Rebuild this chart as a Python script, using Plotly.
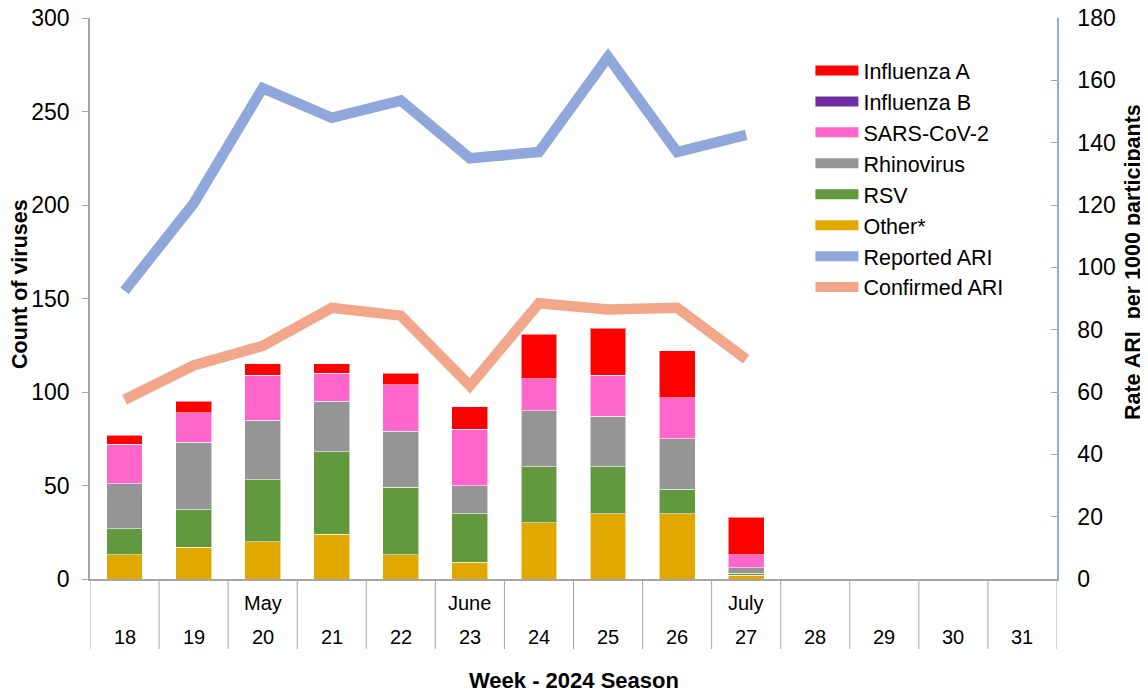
import plotly.graph_objects as go

weeks = [18, 19, 20, 21, 22, 23, 24, 25, 26, 27, 28, 29, 30, 31]
month_labels = {20: "May", 23: "June", 27: "July"}
data_weeks = [18, 19, 20, 21, 22, 23, 24, 25, 26, 27]

other = [13, 17, 20, 24, 13, 9, 30, 35, 35, 2]
rsv = [14, 20, 33, 44, 36, 26, 30, 25, 13, 1]
rhino = [24, 36, 32, 27, 30, 15, 30, 27, 27, 3]
sars = [21, 16, 24, 15, 25, 30, 17, 22, 22, 7]
flu_b = [0, 0, 0, 0, 0, 0, 0, 0, 0, 0]
flu_a = [5, 6, 6, 5, 6, 12, 24, 25, 25, 20]

reported_ari = [92.5, 120.5, 157.5, 148, 153.5, 135, 137, 167.5, 137, 142.5]
confirmed_ari = [57.5, 68.5, 74.8, 87, 84.5, 62, 88.5, 86.5, 87, 70.5]

FONT = "Arial, 'Liberation Sans', sans-serif"

bar_series = [
    ("Other*", other, "#E1A900", 6),
    ("RSV", rsv, "#62993E", 5),
    ("Rhinovirus", rhino, "#959595", 4),
    ("SARS-CoV-2", sars, "#FF66CC", 3),
    ("Influenza B", flu_b, "#7030A0", 2),
    ("Influenza A", flu_a, "#FF0000", 1),
]

fig = go.Figure()
for name, vals, color, rank in bar_series:
    fig.add_trace(go.Bar(
        x=data_weeks, y=vals, name=name, marker_color=color,
        marker_line=dict(color="rgba(255,255,255,0.55)", width=1),
        width=0.52, showlegend=False, legendgroup=name, yaxis="y",
    ))
    # legend proxy (wide rectangle look)
    fig.add_trace(go.Scatter(
        x=[None], y=[None], mode="lines", name=name,
        line=dict(color=color, width=13), legendgroup=name,
        legendrank=rank, showlegend=True,
    ))

fig.add_trace(go.Scatter(
    x=data_weeks, y=reported_ari, name="Reported ARI", mode="lines",
    line=dict(color="#8FA7DA", width=10.5), yaxis="y2", legendrank=7,
))
fig.add_trace(go.Scatter(
    x=data_weeks, y=confirmed_ari, name="Confirmed ARI", mode="lines",
    line=dict(color="#F2A78A", width=10.5), yaxis="y2", legendrank=8,
))

shapes = []
for i in range(len(weeks) + 1):
    shapes.append(dict(type="line", xref="x", yref="paper",
                       x0=weeks[0] - 0.5 + i, x1=weeks[0] - 0.5 + i,
                       y0=0, y1=-0.1248,
                       line=dict(color="#A6A6A6", width=1)))

annotations = []
for w in weeks:
    annotations.append(dict(x=w, y=-0.1034, xref="x", yref="paper",
                            text=str(w), showarrow=False,
                            xanchor="center", yanchor="middle",
                            font=dict(size=20, color="#000", family=FONT)))
    if w in month_labels:
        annotations.append(dict(x=w, y=-0.0428, xref="x", yref="paper",
                                text=month_labels[w], showarrow=False,
                                xanchor="center", yanchor="middle",
                                font=dict(size=20, color="#000", family=FONT)))

annotations.append(dict(x=0.5, y=-0.1818, xref="paper", yref="paper",
                        text="<b>Week - 2024 Season</b>", showarrow=False,
                        xanchor="center", yanchor="middle",
                        font=dict(size=22, color="#000", family=FONT)))
annotations.append(dict(x=0, y=0.526, xref="paper", yref="paper", xshift=-70,
                        text="<b>Count of viruses</b>", showarrow=False,
                        textangle=-90, xanchor="center", yanchor="middle",
                        font=dict(size=21.5, color="#000", family=FONT)))
annotations.append(dict(x=1, y=0.565, xref="paper", yref="paper", xshift=76,
                        text="<b>Rate ARI\u00a0 per 1000 participants</b>", showarrow=False,
                        textangle=-90, xanchor="center", yanchor="middle",
                        font=dict(size=21.5, color="#000", family=FONT)))

fig.update_layout(
    width=1148, height=693,
    margin=dict(l=82, r=99, t=10, b=122),
    plot_bgcolor="white", paper_bgcolor="white",
    barmode="stack",
    font=dict(family=FONT, color="#000"),
    xaxis=dict(range=[17.5, 31.5], showline=True, linecolor="#A6A6A6",
               linewidth=1.5, showticklabels=False, ticks="",
               showgrid=False, zeroline=False, automargin=False),
    yaxis=dict(range=[0, 300], dtick=50, showline=True, linecolor="#A6A6A6",
               linewidth=1.5, ticks="outside", ticklen=6, tickcolor="#A6A6A6",
               showgrid=False, zeroline=False, automargin=False,
               ticklabeloverflow="allow",
               tickfont=dict(size=23, family=FONT, color="#000"),
               ticklabelstandoff=8),
    yaxis2=dict(range=[0, 180], dtick=20, overlaying="y", side="right",
                showline=True, linecolor="#8FAADC", linewidth=1.5,
                ticks="inside", ticklen=6, tickcolor="#8FAADC",
                showgrid=False, zeroline=False, automargin=False,
                ticklabeloverflow="allow",
                tickfont=dict(size=23, family=FONT, color="#000"),
                ticklabelstandoff=14),
    legend=dict(x=0.745, y=0.943, xanchor="left", yanchor="top",
                traceorder="normal", itemwidth=43,
                font=dict(size=21.5, family=FONT, color="#000"),
                bgcolor="rgba(0,0,0,0)", tracegroupgap=0),
    shapes=shapes,
    annotations=annotations,
)

fig.write_html("out.html")
